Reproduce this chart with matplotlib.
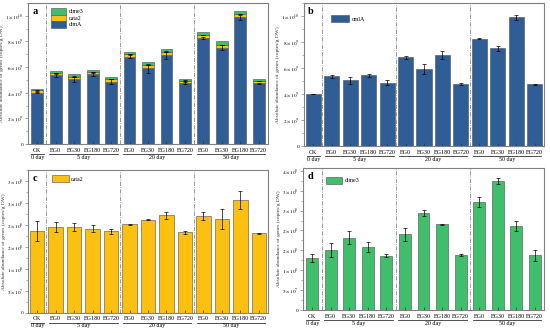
import matplotlib
matplotlib.use("Agg")
import matplotlib.pyplot as plt
import matplotlib.transforms as mtransforms
from matplotlib.ticker import AutoMinorLocator
import numpy as np

plt.rcParams["font.family"] = ["Liberation Serif", "DejaVu Serif"]
plt.rcParams["mathtext.fontset"] = "stix"

# ---- data ----
categories = ["CK", "EG0", "EG30", "EG180", "EG720", "EG0", "EG30", "EG180", "EG720",
              "EG0", "EG30", "EG180", "EG720"]
day_labels = ["0 day", "5 day", "20 day", "50 day"]
day_spans = [(0, 0), (1, 4), (5, 8), (9, 12)]

cmla = [4.0e9, 5.36e9, 5.05e9, 5.44e9, 4.87e9, 6.82e9, 5.92e9, 6.97e9, 4.77e9,
        8.26e9, 7.51e9, 9.90e9, 4.74e9]
cmla_err = [0.03e9, 0.1e9, 0.25e9, 0.1e9, 0.2e9, 0.1e9, 0.35e9, 0.3e9, 0.1e9,
            0.05e9, 0.2e9, 0.2e9, 0.03e9]
cata2 = [1.86e8, 1.95e8, 1.95e8, 1.92e8, 1.86e8, 2.02e8, 2.12e8, 2.22e8, 1.83e8,
         2.20e8, 2.14e8, 2.57e8, 1.81e8]
cata2_err = [0.22e8, 0.12e8, 0.09e8, 0.07e8, 0.06e8, 0.01e8, 0.01e8, 0.08e8, 0.04e8,
             0.09e8, 0.23e8, 0.21e8, 0.01e8]
clme3 = [1.31e8, 1.51e8, 1.82e8, 1.58e8, 1.37e8, 1.90e8, 2.44e8, 2.15e8, 1.39e8,
         2.71e8, 3.24e8, 2.12e8, 1.38e8]
clme3_err = [0.11e8, 0.17e8, 0.17e8, 0.12e8, 0.04e8, 0.17e8, 0.08e8, 0.02e8, 0.03e8,
             0.13e8, 0.075e8, 0.13e8, 0.14e8]

BLUE = "#2f5e96"
YELLOW = "#fcc010"
GREEN = "#3fbf6b"
EDGE = "#4d4d4d"
SPINE = "#808080"
FS = 4.3

fig = plt.figure(figsize=(5.5, 3.33), dpi=100)
W, H = 550.0, 333.0


def add_ax(l, r, t, b):
    return fig.add_axes([l / W, (H - b) / H, (r - l) / W, (b - t) / H])


def style_axis(ax, yticks, ylabels, ymax, letter, height_px):
    x = np.arange(len(categories))
    ax.set_xlim(-0.5, len(categories) - 0.5)
    ax.set_ylim(0, ymax)
    ax.set_yticks(yticks)
    ax.set_yticklabels(ylabels)
    ax.yaxis.set_minor_locator(AutoMinorLocator(2))
    ax.set_xticks(x)
    ax.set_xticklabels([])
    ax.tick_params(axis="y", which="major", labelsize=FS - 0.5, length=2, width=0.5,
                   color=SPINE, pad=1)
    ax.tick_params(axis="y", which="minor", length=1.2, width=0.4, color=SPINE)
    ax.tick_params(axis="x", direction="in", length=2, width=0.5, color="#333333")
    for s in ax.spines.values():
        s.set_color(SPINE)
        s.set_linewidth(0.8)
    ax.set_ylabel("Absolute abundance of genes (copies/g DW)", fontsize=FS - 0.4,
                  labelpad=1, color="#333333")
    for sep in (0.5, 4.5, 8.5):
        ax.axvline(sep, color="#8a8a8a", lw=0.6, ls=(0, (5, 1.5, 1, 1.5)), zorder=0)
    ax.text(0.018, 0.97, letter, transform=ax.transAxes, fontsize=7.5,
            fontweight="bold", va="top", ha="left")

    trans = mtransforms.blended_transform_factory(ax.transData, ax.transAxes)
    off = lambda px: -px / height_px
    for i, c in enumerate(categories):
        ax.text(i, off(3.5), c, transform=trans, ha="center", va="top", fontsize=FS,
                clip_on=False)
    for lab, (a, b) in zip(day_labels, day_spans):
        ax.plot([a - 0.35, b + 0.35], [off(9.5), off(9.5)], transform=trans,
                color="#333333", lw=0.6, clip_on=False)
        ax.text((a + b) / 2, off(10.5), lab, transform=trans, ha="center", va="top",
                fontsize=FS, clip_on=False)


ebkw = dict(ecolor="black", elinewidth=0.5, capsize=1.3, capthick=0.5)
x = np.arange(len(categories))

# ---- panel a: stacked ----
ax = add_ax(28, 268, 3, 144)
b1 = ax.bar(x, cmla, 0.64, color=BLUE, edgecolor=EDGE, lw=0.4, label="clmA")
ax.errorbar(x, cmla, yerr=cmla_err, fmt="none", **ebkw)
bot2 = np.array(cmla)
b2 = ax.bar(x, cata2, 0.64, bottom=bot2, color=YELLOW, edgecolor=EDGE, lw=0.4,
            label="cata2")
ax.errorbar(x, bot2 + np.array(cata2), yerr=cata2_err, fmt="none", **ebkw)
bot3 = bot2 + np.array(cata2)
b3 = ax.bar(x, clme3, 0.64, bottom=bot3, color=GREEN, edgecolor=EDGE, lw=0.4,
            label="clme3")
big = [0, 2e9, 4e9, 6e9, 8e9, 1e10]
big_lab = ["0", r"$2\times10^9$", r"$4\times10^9$", r"$6\times10^9$", r"$8\times10^9$",
           r"$1\times10^{10}$"]
style_axis(ax, big, big_lab, 1.1e10, "a", 141)
ax.legend([b3, b2, b1], ["clme3", "cata2", "clmA"], loc="upper left",
          bbox_to_anchor=(0.083, 0.985), frameon=False, fontsize=FS, handlelength=2.6,
          handleheight=1.3, labelspacing=0.0, borderpad=0, handletextpad=0.4)

# ---- panel b ----
ax = add_ax(304, 544, 3, 146)
hb = ax.bar(x, cmla, 0.82, color=BLUE, edgecolor=EDGE, lw=0.4)
ax.errorbar(x, cmla, yerr=cmla_err, fmt="none", **ebkw)
style_axis(ax, big, big_lab, 1.1e10, "b", 143)
ax.legend([hb], ["cmlA"], loc="upper left", bbox_to_anchor=(0.1, 0.935), frameon=False,
          fontsize=FS, handlelength=3.0, handleheight=1.4, borderpad=0,
          handletextpad=0.4)

# ---- panel c ----
ax = add_ax(28, 268, 170, 313)
hc = ax.bar(x, cata2, 0.78, color=YELLOW, edgecolor=EDGE, lw=0.4)
ax.errorbar(x, cata2, yerr=cata2_err, fmt="none", **ebkw)
small = [0, 5e7, 1e8, 1.5e8, 2e8, 2.5e8, 3e8]
small_lab = ["0", r"$5\times10^7$", r"$1\times10^8$", r"$2\times10^8$", r"$2\times10^8$",
             r"$3\times10^8$", r"$3\times10^8$"]
style_axis(ax, small, small_lab, 3.25e8, "c", 143)
ax.legend([hc], ["cata2"], loc="upper left", bbox_to_anchor=(0.087, 0.985),
          frameon=False, fontsize=FS, handlelength=2.8, handleheight=1.4, borderpad=0,
          handletextpad=0.4)

# ---- panel d ----
ax = add_ax(303, 544, 168, 310)
hd = ax.bar(x, clme3, 0.64, color=GREEN, edgecolor=EDGE, lw=0.4)
ax.errorbar(x, clme3, yerr=clme3_err, fmt="none", **ebkw)
small_d = small + [3.5e8]
small_d_lab = small_lab + [r"$4\times10^8$"]
style_axis(ax, small_d, small_d_lab, 3.57e8, "d", 142)
ax.legend([hd], ["clme3"], loc="upper left", bbox_to_anchor=(0.085, 0.96),
          frameon=False, fontsize=FS, handlelength=2.6, handleheight=1.4, borderpad=0,
          handletextpad=0.4)

fig.savefig("out.png", dpi=100)
